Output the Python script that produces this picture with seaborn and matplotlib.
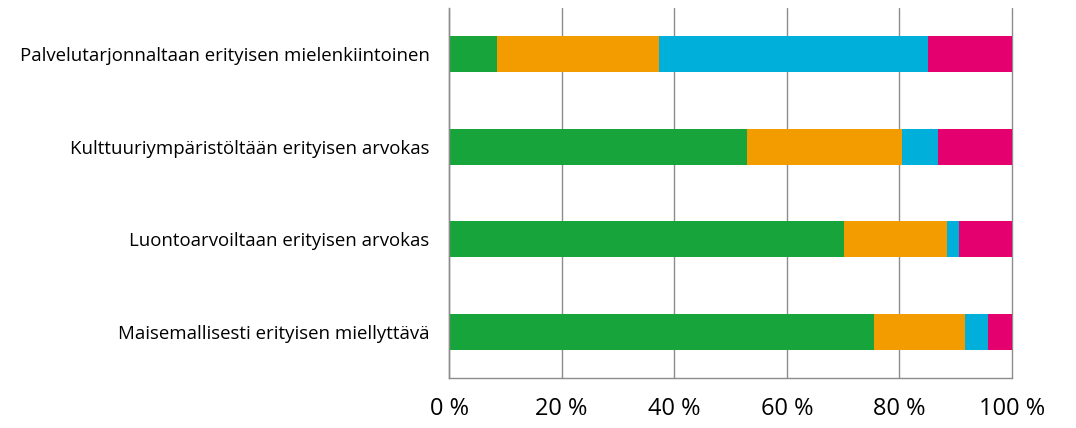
import numpy as np
import pandas as pd
import matplotlib
matplotlib.use("Agg")
import matplotlib.pyplot as plt
import matplotlib.ticker as mtick
import seaborn as sns

# ── Data ────────────────────────────────────────────────────────────────────
categories = [
    "Palvelutarjonnaltaan erityisen mielenkiintoinen",
    "Kulttuuriympäristöltään erityisen arvokas",
    "Luontoarvoiltaan erityisen arvokas",
    "Maisemallisesti erityisen miellyttävä",
]
green   = [8.5, 53.0, 70.1, 75.4]
orange  = [28.8, 27.5, 18.3, 16.3]
cyan    = [47.8, 6.4, 2.2, 4.0]
magenta = [14.9, 13.1, 9.4, 4.3]

x_ticks = [0, 20, 40, 60, 80, 100]

series  = [("green", green), ("orange", orange), ("cyan", cyan), ("magenta", magenta)]
colors  = {"green": "#17A43A", "orange": "#F39C00", "cyan": "#00B0DA", "magenta": "#E4006F"}

# cumulative ends per segment
df = pd.DataFrame({name: vals for name, vals in series}, index=categories)
cum = df.cumsum(axis=1)

# ── Plot ────────────────────────────────────────────────────────────────────
sns.set_style("white")
plt.rcParams["font.family"] = ["Open Sans", "DejaVu Sans"]

fig = plt.figure(figsize=(10.76, 4.28), dpi=100)
ax = fig.add_axes([449 / 1076, 1 - 378 / 428, 563 / 1076, 370 / 428])

# draw from the last segment back so earlier ones sit on top
for name, _ in reversed(series):
    sns.barplot(x=cum[name].values, y=categories, color=colors[name],
                orient="h", width=0.39, ax=ax, saturation=1, linewidth=0)

ax.set_xlim(0, 100)
ax.set_ylim(3.5, -0.5)
ax.set_xticks(x_ticks)
ax.xaxis.set_major_formatter(mtick.FuncFormatter(lambda v, _: f"{v:.0f} %"))
ax.grid(axis="x", color="#8c8c8c", lw=1)
for gl in ax.get_xgridlines():
    gl.set_clip_on(False)
ax.set_axisbelow(True)
ax.set_xlabel("")
ax.set_ylabel("")

for s in ["top", "right"]:
    ax.spines[s].set_visible(False)
for s in ["left", "bottom"]:
    ax.spines[s].set_color("#8c8c8c")
    ax.spines[s].set_linewidth(1)

ax.tick_params(axis="x", length=6, color="#8c8c8c", width=1, labelsize=17,
               labelcolor="black", pad=8)
ax.tick_params(axis="y", which="major", length=0, labelsize=13.4,
               labelcolor="black", pad=14)
ax.set_yticks(np.arange(-0.5, 4, 1), minor=True)
ax.tick_params(axis="y", which="minor", length=6, color="#8c8c8c", width=1)

plt.savefig("out.png", dpi=100)
